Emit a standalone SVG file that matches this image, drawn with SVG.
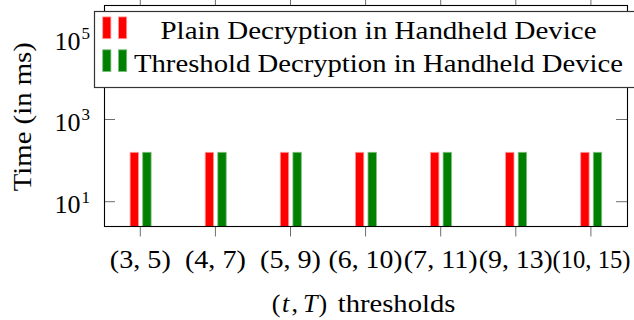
<svg xmlns="http://www.w3.org/2000/svg" width="634" height="320" viewBox="0 0 634 320">
  <style>
    text { font-family: "Liberation Serif", "Times New Roman", serif; fill: #000; }
    .lbl { font-size: 26px; }
    .sup { font-size: 17px; }
    .tick { stroke: #6e6e6e; stroke-width: 1; fill: none; }
    .axis { stroke: #000; stroke-width: 1.1; fill: none; }
    .red { fill: #ff0000; stroke: #ff9c9c; stroke-width: 0.8; }
    .green { fill: #008000; stroke: #7fbf7f; stroke-width: 0.8; }
  </style>
  <rect x="0" y="0" width="634" height="320" fill="#ffffff"/>

  <!-- ticks -->
  <g id="ticks">
    <path class="tick" d="M140.3,226.5V236.5 M215.4,226.5V236.5 M290.5,226.5V236.5 M365.6,226.5V236.5 M440.7,226.5V236.5 M515.8,226.5V236.5 M590.9,226.5V236.5"/>
    <path class="tick" d="M140.3,5.5V-5 M215.4,5.5V-5 M290.5,5.5V-5 M365.6,5.5V-5 M440.7,5.5V-5 M515.8,5.5V-5 M590.9,5.5V-5"/>
    <path class="tick" d="M104.5,201.7H115 M104.5,119.5H115 M104.5,37.4H115 M627.5,201.7H616 M627.5,119.5H616 M627.5,37.4H616"/>
  </g>

  <!-- bars -->
  <g id="bars">
    <g id="bar-3-5"><rect class="red" x="130.1" y="152.3" width="8.4" height="74.2"/><rect class="green" x="142.7" y="152.3" width="8.4" height="74.2"/></g>
    <g id="bar-4-7"><rect class="red" x="205.2" y="152.3" width="8.4" height="74.2"/><rect class="green" x="217.8" y="152.3" width="8.4" height="74.2"/></g>
    <g id="bar-5-9"><rect class="red" x="280.3" y="152.3" width="8.4" height="74.2"/><rect class="green" x="292.9" y="152.3" width="8.4" height="74.2"/></g>
    <g id="bar-6-10"><rect class="red" x="355.4" y="152.3" width="8.4" height="74.2"/><rect class="green" x="368.0" y="152.3" width="8.4" height="74.2"/></g>
    <g id="bar-7-11"><rect class="red" x="430.5" y="152.3" width="8.4" height="74.2"/><rect class="green" x="443.1" y="152.3" width="8.4" height="74.2"/></g>
    <g id="bar-9-13"><rect class="red" x="505.6" y="152.3" width="8.4" height="74.2"/><rect class="green" x="518.2" y="152.3" width="8.4" height="74.2"/></g>
    <g id="bar-10-15"><rect class="red" x="580.7" y="152.3" width="8.4" height="74.2"/><rect class="green" x="593.3" y="152.3" width="8.4" height="74.2"/></g>
  </g>

  <!-- axis box -->
  <g id="axes">
    <rect class="axis" x="104.5" y="5.5" width="523" height="221"/>
  </g>

  <!-- tick labels -->
  <g id="xticklabels" text-anchor="middle">
    <text class="lbl" x="140.3" y="268" textLength="61" lengthAdjust="spacingAndGlyphs">(3, 5)</text>
    <text class="lbl" x="215.4" y="268" textLength="61" lengthAdjust="spacingAndGlyphs">(4, 7)</text>
    <text class="lbl" x="290.5" y="268" textLength="61" lengthAdjust="spacingAndGlyphs">(5, 9)</text>
    <text class="lbl" x="365.6" y="268" textLength="74" lengthAdjust="spacingAndGlyphs">(6, 10)</text>
    <text class="lbl" x="440.7" y="268" textLength="74" lengthAdjust="spacingAndGlyphs">(7, 11)</text>
    <text class="lbl" x="515.8" y="268" textLength="74" lengthAdjust="spacingAndGlyphs">(9, 13)</text>
    <text class="lbl" x="591.5" y="268" textLength="78" lengthAdjust="spacingAndGlyphs">(10, 15)</text>
  </g>

  <g id="yticklabels">
    <text class="lbl" x="54.5" y="49.5">10<tspan class="sup" x="81.5" y="39">5</tspan></text>
    <text class="lbl" x="54.5" y="130.5">10<tspan class="sup" x="81.5" y="120">3</tspan></text>
    <text class="lbl" x="54.5" y="213">10<tspan class="sup" x="81.5" y="202.5">1</tspan></text>
  </g>

  <!-- axis labels -->
  <g id="xlabel">
    <text class="lbl" y="312"><tspan x="271.7">(</tspan><tspan x="282" font-style="italic">t</tspan><tspan x="291.5">,</tspan><tspan x="303" font-style="italic">T</tspan><tspan x="318.6">)</tspan><tspan x="337.7" textLength="117.7" lengthAdjust="spacingAndGlyphs">thresholds</tspan></text>
  </g>
  <g id="ylabel">
    <text class="lbl" transform="translate(31,116.7) rotate(-90)" text-anchor="middle" textLength="149" lengthAdjust="spacingAndGlyphs">Time (in ms)</text>
  </g>

  <!-- legend -->
  <g id="legend">
    <rect x="94.5" y="11.5" width="560" height="76" fill="#ffffff" stroke="#333333" stroke-width="1.2"/>
    <rect class="red" x="102.7" y="16.9" width="8.2" height="21.8"/>
    <rect class="red" x="118.5" y="16.9" width="8.2" height="21.8"/>
    <rect class="green" x="102.7" y="49.8" width="8.2" height="21.8"/>
    <rect class="green" x="118.5" y="49.8" width="8.2" height="21.8"/>
    <text class="lbl" x="378.5" y="39" text-anchor="middle" textLength="436" lengthAdjust="spacingAndGlyphs">Plain Decryption in Handheld Device</text>
    <text class="lbl" x="378.5" y="72" text-anchor="middle" textLength="489" lengthAdjust="spacingAndGlyphs">Threshold Decryption in Handheld Device</text>
  </g>
</svg>
